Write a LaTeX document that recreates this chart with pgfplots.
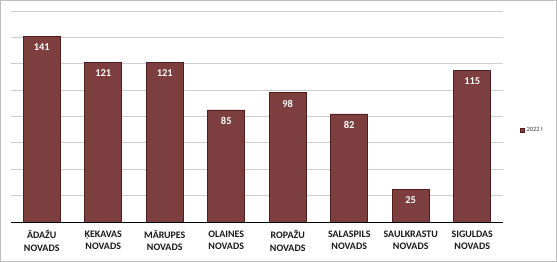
\documentclass[border=0pt]{standalone}
\usepackage{pgfplots}
\pgfplotsset{compat=1.18}
\usepackage{fontspec}
\setmainfont{Carlito}
\definecolor{barfill}{RGB}{124,62,62}
\definecolor{barline}{RGB}{85,28,28}
\definecolor{gridc}{RGB}{205,205,205}
\definecolor{frame}{RGB}{190,190,190}
\begin{document}
\begin{tikzpicture}
\path[use as bounding box] (0,0) rectangle (557bp,262bp);
\begin{axis}[
  at={(11bp,40bp)}, anchor=south west,
  scale only axis, width=492bp, height=211bp,
  ymin=0, ymax=160, ytick={0,20,...,160}, yticklabels={},
  xmin=-0.5, xmax=7.5,
  xtick={0,...,7},
  xticklabels={ĀDAŽU\\NOVADS, ĶEKAVAS\\NOVADS, MĀRUPES\\NOVADS, OLAINES\\NOVADS, ROPAŽU\\NOVADS, SALASPILS\\NOVADS, SAULKRASTU\\NOVADS, SIGULDAS\\NOVADS},
  xticklabel style={align=center, font=\fontsize{10}{12.5}\selectfont\bfseries, text=black!90, yshift=-5bp},
  major tick length=0pt,
  ymajorgrids, grid style={gridc, line width=0.8pt},
  axis x line=bottom, axis y line=left,
  x axis line style={-, black, line width=0.9pt},
  y axis line style={draw=none},
  ybar, bar width=37bp,
  nodes near coords,
  nodes near coords style={/pgf/number format/assume math mode=true},
  every node near coord/.append style={anchor=north, yshift=-4bp, text=white, font=\fontsize{10.5}{12}\selectfont\bfseries},
  legend style={at={(1.028,0.436)}, anchor=west, draw=none, fill=none, font=\fontsize{6.5}{8}\selectfont, text=black!75},
  legend image code/.code={\fill[barfill, draw=barline] (0cm,-0.07cm) rectangle (0.14cm,0.07cm);},
]
\addplot[fill=barfill, draw=barline, line width=0.6pt] coordinates {(0,141) (1,121) (2,121) (3,85) (4,98) (5,82) (6,25) (7,115)};
\addlegendentry{2022 I}
\end{axis}
\draw[frame, line width=0.8pt] (0.4bp,0.4bp) rectangle (556.6bp,261.6bp);
\end{tikzpicture}
\end{document}
